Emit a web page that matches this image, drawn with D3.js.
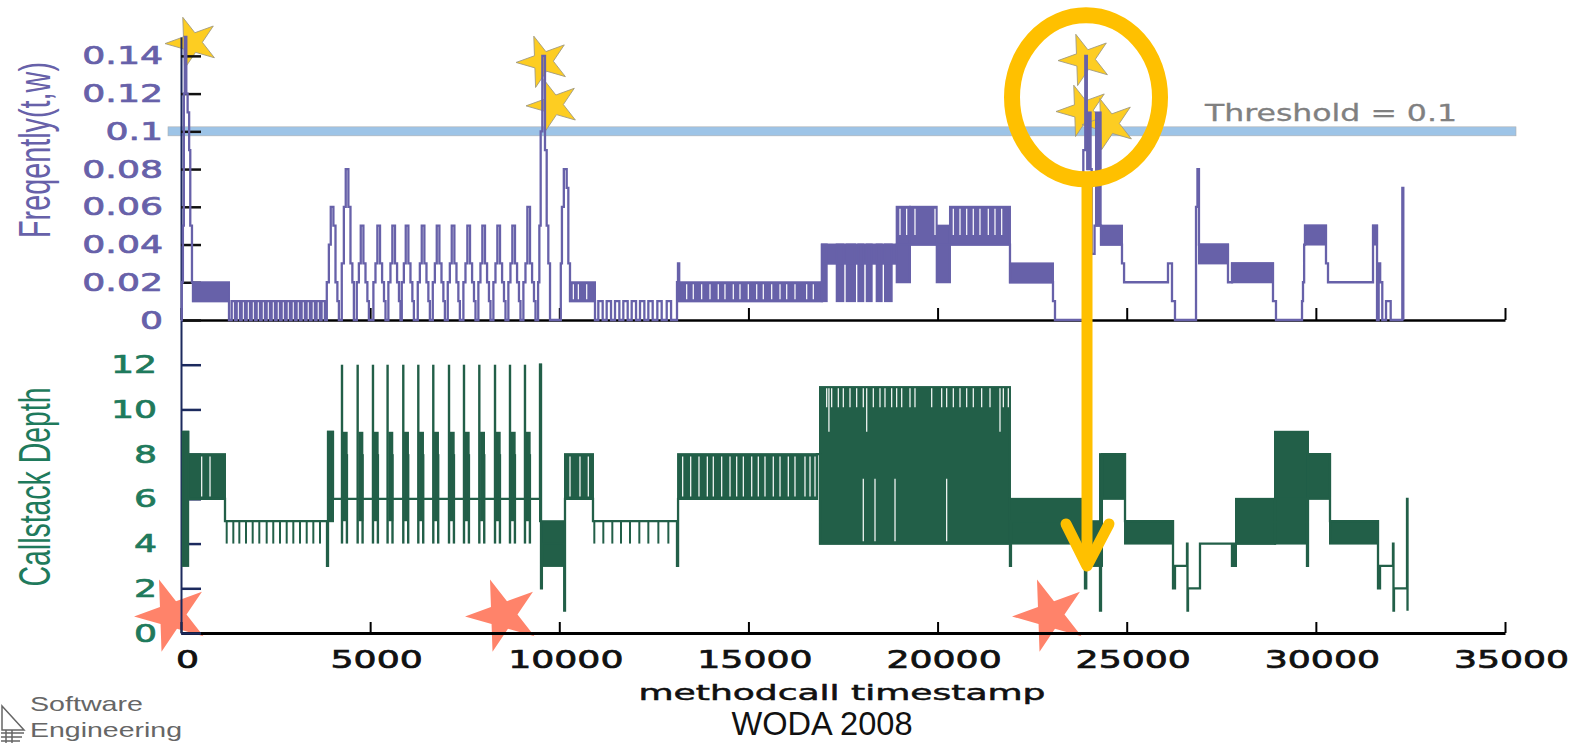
<!DOCTYPE html>
<html>
<head>
<meta charset="utf-8">
<script src="https://cdn.jsdelivr.net/npm/d3@7"></script>
<style>
  body { margin: 0; background: #fff; }
  svg { display: block; }
</style>
</head>
<body>
<svg id="chart" width="1578" height="743"></svg>
<script>
// values; t = methodcall timestamp
const xTicks = [0, 5000, 10000, 15000, 20000, 25000, 30000, 35000];
const freqTicks = [0, 0.02, 0.04, 0.06, 0.08, 0.1, 0.12, 0.14];
const freqTickLabels = ["0", "0.02", "0.04", "0.06", "0.08", "0.1", "0.12", "0.14"];
const depthTicks = [0, 2, 4, 6, 8, 10, 12];
const threshold = 0.1;

// Freqently(t,w): step vertices [t, value]
const freqSteps = [
  [0,0],[20,0.02],[50,0.05],[75,0.12],[100,0.15],[140,0.12],[175,0.11],[215,0.09],[245,0.05],[290,0.02],[317,0.01],[1269,0],
  [9440,0.02],[9473,0.05],[9508,0.1],[9552,0.14],[9622,0.09],[9667,0.05],[9710,0.03],[9755,0],
  [10040,0.03],[10070,0.06],[10120,0.08],[10196,0.07],[10239,0.03],[10283,0.01],[10944,0],
  [13112,0.02],[13138,0.03],[13170,0.01],[16945,0.02],[17000,0.03],[18919,0.04],[21914,0.02],[23051,0.01],[23104,0],
  [23853,0.09],[23905,0.14],[23945,0.09],[23960,0.08],[24074,0.035],[24150,0.05],[24320,0.04],[24875,0.03],[24930,0.02],
  [26091,0.03],[26197,0.01],[26276,0],[26832,0.06],[26870,0.08],[26910,0.04],[27677,0.02],[27783,0.03],[28867,0.01],[28946,0],
  [29634,0.01],[29660,0.02],[29690,0.04],[29713,0.05],[30268,0.03],[30321,0.02],[31511,0.05],[31617,0],[31660,0.03],
  [31700,0.02],[31756,0],[31855,0.01],[31978,0],[32286,0.07],[32312,0]
];
// staircase peaks: [centre, level at each stair step]
const peakOffsets = [-130, -75, -25, 45, 100, 150, 190];
const freqPeaks = [
  [3984, 0.02,0.04,0.06,0.05,0.02,0.01,0],
  [4380, 0.03,0.06,0.08,0.06,0.03,0.02,0],
  [4777, 0.02,0.03,0.05,0.03,0.02,0.01,0],
  [5216, 0.02,0.03,0.05,0.03,0.02,0.01,0],
  [5612, 0.02,0.03,0.05,0.03,0.02,0.01,0],
  [5966, 0.02,0.03,0.05,0.03,0.02,0.01,0],
  [6389, 0.02,0.03,0.05,0.03,0.02,0.01,0],
  [6786, 0.02,0.03,0.05,0.03,0.02,0.01,0],
  [7182, 0.02,0.03,0.05,0.03,0.02,0.01,0],
  [7595, 0.02,0.03,0.05,0.03,0.02,0.01,0],
  [7991, 0.02,0.03,0.05,0.03,0.02,0.01,0],
  [8388, 0.02,0.03,0.05,0.03,0.02,0.01,0],
  [8784, 0.02,0.03,0.05,0.03,0.02,0.01,0],
  [9181, 0.02,0.03,0.06,0.03,0.02,0.01,0]
];
// pulses 0 -> 0.01 (start times)
const freqPulsesA = [1340,1472,1604,1736,1868,2000,2132,2264,2396,2528,2660,2792,2924,3056,3188,3320,3452,3584,3716];
const pulseWidthA = 88;
const freqPulsesB = [11032,11253,11473,11693,11914,12134,12354,12592,12840];
const pulseWidthB = 115;
// dense oscillation: [t0, t1, low, high]
const freqBlocks = [
  [317,1269,0.01,0.02],[10283,10944,0.01,0.02],[13170,16945,0.01,0.02],[16945,18919,0.03,0.04],
  [16937,17069,0.01,0.04],[17334,17508,0.01,0.04],[17597,17817,0.01,0.04],[17905,18036,0.01,0.04],
  [18127,18258,0.01,0.04],[18390,18522,0.01,0.04],[18610,18787,0.01,0.04],
  [18919,19271,0.02,0.06],[19271,19977,0.04,0.06],[19977,20328,0.02,0.05],[20328,21914,0.04,0.06],
  [21914,23051,0.02,0.03],[23960,24048,0.08,0.11],[24188,24312,0.05,0.11],[24320,24875,0.04,0.05],
  [26910,27677,0.03,0.04],[27783,28867,0.02,0.03],[29713,30268,0.04,0.05],[31511,31617,0.04,0.05]
];
// white gaps inside the dense parts: [t, low, high]
const freqGaps = [
  [10372,0.011,0.019],[10504,0.011,0.019],[10725,0.011,0.019],
  [13368,0.011,0.019],[13542,0.011,0.019],[13764,0.011,0.019],[13984,0.011,0.019],[14203,0.011,0.019],
  [14380,0.011,0.019],[14600,0.011,0.019],[14777,0.011,0.019],[14997,0.011,0.019],[15219,0.011,0.019],
  [15393,0.011,0.019],[15615,0.011,0.019],[15835,0.011,0.019],[16012,0.011,0.019],[16231,0.011,0.019],
  [16540,0.011,0.019],[16715,0.011,0.019],
  [19007,0.045,0.059],[19183,0.045,0.059],[19403,0.045,0.059],[19932,0.045,0.059],[20416,0.045,0.059],
  [20593,0.045,0.059],[20770,0.045,0.059],[20944,0.045,0.059],[21121,0.045,0.059],[21341,0.045,0.059],
  [21518,0.045,0.059],[21695,0.045,0.059]
];

// Callstack Depth
const depthSteps = [
  [45,9],[190,6],[1163,5],[3860,3],[3886,9],[4018,6],[9490,12],[9517,2],[9540,4],[10130,1],[10151,6],
  [10891,5],[13112,3],[13140,6],[16813,8],[16892,4],[21914,3],[21940,5],[23818,4],[23897,2],[23930,4],
  [24294,1],[24320,6],[24347,8],[24955,5],[26224,2],[26276,3],[26594,4],[26607,1],[26620,2],[26937,4],
  [27783,3],[27810,4],[27860,3],[27885,4],[28920,6],[29766,3],[29792,8],[30374,5],[31643,2],[31696,3],
  [32039,4],[32052,1],[32065,2],[32410,6],[32423,1]
];
const depthBlocks = [
  [45,190,3,9],[190,1163,6,8],[3886,4018,5,9],[9490,9517,5,12],[9517,10151,3,5],[10151,10891,6,8],
  [13140,16813,6,8],[16892,21914,4,11],[21914,23818,4,6],[23897,24294,3,5],[24294,24347,3,8],
  [24347,24955,6,8],[24955,26224,4,5],[27889,28920,4,6],[28920,29792,4,9],[29792,30374,6,8],[30374,31643,4,5]
];
// bursts reaching depth 12 (t of the tall line)
const depthClusters = [4256,4670,5075,5461,5876,6273,6669,7085,7481,7886,8301,8697,9093];
// short drops from 5 to 4
const depthDrops = [1208,1383,1542,1718,1895,2070,2265,2439,2617,2794,2969,3146,3323,3498,3675,
  10926,11164,11402,11632,11870,12116,12354,12619,12883];
const depthGaps = [
  [547,6.1,7.9],[767,6.1,7.9],[10283,6.1,7.9],[10547,6.1,7.9],[10767,6.1,7.9],
  [13262,6.1,7.9],[13474,6.1,7.9],[13693,6.1,7.9],[13913,6.1,7.9],[14071,6.1,7.9],[14293,6.1,7.9],
  [14513,6.1,7.9],[14690,6.1,7.9],[14865,6.1,7.9],[15087,6.1,7.9],[15261,6.1,7.9],[15438,6.1,7.9],
  [15657,6.1,7.9],[15835,6.1,7.9],[16054,6.1,7.9],[16231,6.1,7.9],[16495,6.1,7.9],[16628,6.1,7.9],[16760,6.1,7.9],
  [17069,10.1,10.95],[17128,9,10.95],[17201,10.1,10.95],[17376,10.1,10.95],[17508,10.1,10.95],[17685,10.1,10.95],
  [17862,10.1,10.95],[18036,10.1,10.95],[18127,9,10.95],[18301,10.1,10.95],[18478,10.1,10.95],[18610,10.1,10.95],
  [18787,10.1,10.95],[18919,10.1,10.95],[19052,10.1,10.95],[19271,10.1,10.95],[19403,10.1,10.95],[19845,10.1,10.95],
  [20109,10.1,10.95],[20241,10.1,10.95],[20416,10.1,10.95],[20593,10.1,10.95],[20770,10.1,10.95],[20944,10.1,10.95],
  [21166,10.1,10.95],[21386,10.1,10.95],[21650,9,10.95],[21738,10.1,10.95],[21870,10.1,10.95],
  [18036,4.1,6.9],[18346,4.1,6.9],[18875,4.1,6.9],[20241,4.1,6.9]
];

// annotations
const goldStars = [[291,0.147],[9570,0.137],[9834,0.114],[23898,0.138],[23844,0.111],[24532,0.104]];
const redStars = [[-238,0.8],[8512,0.8],[22972,0.8]];

const purple = "#6761a9", green = "#225f48", teal = "#1f7a5c";
const svg = d3.select("#chart");

const x = d3.scaleLinear().domain([0, 35000]).range([181, 1505]);
const yF = d3.scaleLinear().domain([0, 0.15]).range([320, 37]);
const yD = d3.scaleLinear().domain([0, 14]).range([633, 320]);

// threshold band
svg.append("rect")
  .attr("x", x(0) - 13).attr("y", yF(threshold) - 4.5)
  .attr("width", x(35000) - x(0) + 24).attr("height", 9)
  .attr("fill", "#9dc4e7").attr("stroke", "#b0b0b0").attr("stroke-width", 0.6);

svg.append("text")
  .attr("x", 1205).attr("y", 121)
  .attr("textLength", 252).attr("lengthAdjust", "spacingAndGlyphs")
  .style("font", "23px 'DejaVu Sans'").attr("fill", "#808080")
  .attr("stroke", "#808080").attr("stroke-width", 0.3)
  .text("Threshold = " + threshold);

// stars
const starG = svg.append("g");
starG.selectAll("path.gold").data(goldStars).enter().append("path")
  .attr("d", d3.symbol(d3.symbolStar, 27 * 27 / 0.8908))
  .attr("transform", d => `translate(${x(d[0])},${yF(d[1])}) rotate(-20)`)
  .attr("fill", "#fdcd22").attr("stroke", "#a09a80").attr("stroke-width", 0.8);
starG.selectAll("path.red").data(redStars).enter().append("path")
  .attr("d", d3.symbol(d3.symbolStar, 38 * 38 / 0.8908))
  .attr("transform", d => `translate(${x(d[0])},${yD(d[1])}) rotate(-20)`)
  .attr("fill", "#ff836a");

// axes
const tickFont = "25px 'DejaVu Sans'";
const axFx = svg.append("g").attr("transform", `translate(0,${yF(0)})`)
  .call(d3.axisBottom(x).tickValues(xTicks).tickSizeInner(-12).tickSizeOuter(0).tickFormat(""));
axFx.select(".domain").attr("stroke", "#000").attr("stroke-width", 2.5);
axFx.selectAll(".tick line").attr("stroke", "#000").attr("stroke-width", 2);

const axDx = svg.append("g").attr("transform", `translate(0,${yD(0)})`)
  .call(d3.axisBottom(x).tickValues(xTicks).tickSizeInner(-11).tickSizeOuter(0).tickPadding(17).tickFormat(d3.format("d")));
axDx.select(".domain").attr("stroke", "#000").attr("stroke-width", 3);
axDx.selectAll(".tick line").attr("stroke", "#000").attr("stroke-width", 2);
axDx.selectAll("text")
  .style("font", tickFont).attr("fill", "#111").attr("stroke", "#111").attr("stroke-width", 0.7)
  .attr("x", 6 / 1.45).attr("transform", "scale(1.45,1)");

const axFy = svg.append("g").attr("transform", `translate(${x(0)},0)`)
  .call(d3.axisLeft(yF).tickValues(freqTicks).tickSizeInner(-20).tickSizeOuter(0).tickPadding(18)
    .tickFormat((d, i) => freqTickLabels[i]));
axFy.select(".domain").attr("stroke", "#1c2a5e").attr("stroke-width", 2);
axFy.selectAll(".tick line").attr("stroke", "#111").attr("stroke-width", 2.5);
axFy.selectAll("text")
  .style("font", tickFont).attr("fill", purple).attr("stroke", purple).attr("stroke-width", 0.7)
  .attr("x", -18 / 1.45).attr("transform", "scale(1.45,1)");

const axDy = svg.append("g").attr("transform", `translate(${x(0)},0)`)
  .call(d3.axisLeft(yD).tickValues(depthTicks).tickSizeInner(-20).tickSizeOuter(0).tickPadding(24));
axDy.select(".domain").attr("stroke", "#1c2a5e").attr("stroke-width", 2);
axDy.selectAll(".tick line").attr("stroke", "#1c2a5e").attr("stroke-width", 2.5);
axDy.selectAll("text")
  .style("font", tickFont).attr("fill", teal).attr("stroke", teal).attr("stroke-width", 0.7)
  .attr("x", -24 / 1.45).attr("transform", "scale(1.45,1)");

// axis titles, squeezed along the text to the length seen in the figure
function vTitle(label, cx, cy, len, color) {
  const t = svg.append("text")
    .attr("text-anchor", "middle")
    .style("font", "44px 'Liberation Sans'").attr("fill", color)
    .text(label);
  const k = len / t.node().getComputedTextLength();
  t.attr("transform", `translate(${cx},${cy}) rotate(-90) scale(${k},1)`);
}
vTitle("Freqently(t,w)", 50, 150, 176, purple);
vTitle("Callstack Depth", 50, 487, 199, teal);

// ---- frequency series ----
const stepLine = y => d3.line().x(d => x(d[0])).y(d => y(d[1])).curve(d3.curveStepAfter);

let freqAll = freqSteps.slice();
freqPeaks.forEach(p => peakOffsets.forEach((o, i) => freqAll.push([p[0] + o, p[i + 1]])));
freqPulsesA.forEach(s => { freqAll.push([s, 0.01]); freqAll.push([s + pulseWidthA, 0]); });
freqPulsesB.forEach(s => { freqAll.push([s, 0.01]); freqAll.push([s + pulseWidthB, 0]); });
freqAll.sort((a, b) => a[0] - b[0]);

const fg = svg.append("g");
fg.selectAll("rect").data(freqBlocks).enter().append("rect")
  .attr("x", d => x(d[0])).attr("y", d => yF(d[3]))
  .attr("width", d => x(d[1]) - x(d[0])).attr("height", d => yF(d[2]) - yF(d[3]))
  .attr("fill", purple).attr("stroke", purple).attr("stroke-width", 2);
fg.append("path").datum(freqAll).attr("d", stepLine(yF))
  .attr("fill", "none").attr("stroke", purple).attr("stroke-width", 2.3);
fg.selectAll("line.gap").data(freqGaps).enter().append("line")
  .attr("x1", d => x(d[0])).attr("x2", d => x(d[0]))
  .attr("y1", d => yF(d[1])).attr("y2", d => yF(d[2]))
  .attr("stroke", "#fff").attr("stroke-width", 1.2);

// ---- callstack depth series ----
const dg = svg.append("g");
dg.selectAll("rect.blk").data(depthBlocks).enter().append("rect")
  .attr("x", d => x(d[0])).attr("y", d => yD(d[3]))
  .attr("width", d => x(d[1]) - x(d[0])).attr("height", d => yD(d[2]) - yD(d[3]))
  .attr("fill", green).attr("stroke", green).attr("stroke-width", 2);
const cl = dg.selectAll("g.cl").data(depthClusters).enter().append("g");
cl.append("rect")
  .attr("x", d => x(d + 20)).attr("y", yD(9))
  .attr("width", d => x(d + 150) - x(d + 20)).attr("height", yD(5) - yD(9))
  .attr("fill", green);
cl.append("line")
  .attr("x1", d => x(d)).attr("x2", d => x(d)).attr("y1", yD(12)).attr("y2", yD(4))
  .attr("stroke", green).attr("stroke-width", 2.4);
cl.append("line")
  .attr("x1", d => x(d + 130)).attr("x2", d => x(d + 130)).attr("y1", yD(8)).attr("y2", yD(4))
  .attr("stroke", green).attr("stroke-width", 2.4);
dg.selectAll("line.drop").data(depthDrops).enter().append("line")
  .attr("x1", d => x(d)).attr("x2", d => x(d)).attr("y1", yD(5)).attr("y2", yD(4))
  .attr("stroke", green).attr("stroke-width", 2);
dg.append("path").datum(depthSteps).attr("d", stepLine(yD))
  .attr("fill", "none").attr("stroke", green).attr("stroke-width", 2.3);
dg.selectAll("line.gap").data(depthGaps).enter().append("line")
  .attr("x1", d => x(d[0])).attr("x2", d => x(d[0]))
  .attr("y1", d => yD(d[1])).attr("y2", d => yD(d[2]))
  .attr("stroke", "#fff").attr("stroke-width", 1.2);

// ring and arrow
const ringT = 23924, ringV = 0.118;
svg.append("ellipse")
  .attr("cx", x(ringT)).attr("cy", yF(ringV)).attr("rx", 74).attr("ry", 82)
  .attr("fill", "none").attr("stroke", "#ffc000").attr("stroke-width", 16);
const ax = x(ringT) + 1, tipY = yD(3);
svg.append("line").attr("x1", ax).attr("x2", ax).attr("y1", yF(ringV) + 89).attr("y2", tipY - 2)
  .attr("stroke", "#ffc000").attr("stroke-width", 11);
svg.append("polyline")
  .attr("points", `${ax - 21},${tipY - 42} ${ax},${tipY} ${ax + 22},${tipY - 42}`)
  .attr("fill", "none").attr("stroke", "#ffc000").attr("stroke-width", 11)
  .attr("stroke-linecap", "round").attr("stroke-linejoin", "round");

// footer texts
svg.append("text").attr("x", 842).attr("y", 700).attr("text-anchor", "middle")
  .attr("textLength", 407).attr("lengthAdjust", "spacingAndGlyphs")
  .style("font", "21px 'DejaVu Sans'").attr("fill", "#111").attr("stroke", "#111").attr("stroke-width", 0.5)
  .text("methodcall timestamp");
svg.append("text").attr("x", 822).attr("y", 735).attr("text-anchor", "middle")
  .attr("textLength", 181).attr("lengthAdjust", "spacingAndGlyphs")
  .style("font", "34px 'Liberation Sans'").attr("fill", "#111").text("WODA 2008");

// logo
const logo = svg.append("g").attr("fill", "none").attr("stroke", "#666").attr("stroke-width", 1.5);
logo.append("path").attr("d", "M2,706 L24,730 L2,730 Z");
logo.append("path").attr("d", "M1,733 L24,733 M1,737 L22,737 M1,741 L20,741 M6,730 L6,743 M12,730 L12,743");
svg.append("text").attr("x", 30).attr("y", 711).attr("textLength", 113).attr("lengthAdjust", "spacingAndGlyphs")
  .style("font", "21px 'Liberation Sans'").attr("fill", "#666").text("Software");
svg.append("text").attr("x", 30).attr("y", 737).attr("textLength", 152).attr("lengthAdjust", "spacingAndGlyphs")
  .style("font", "21px 'Liberation Sans'").attr("fill", "#666").text("Engineering");
</script>
</body>
</html>
